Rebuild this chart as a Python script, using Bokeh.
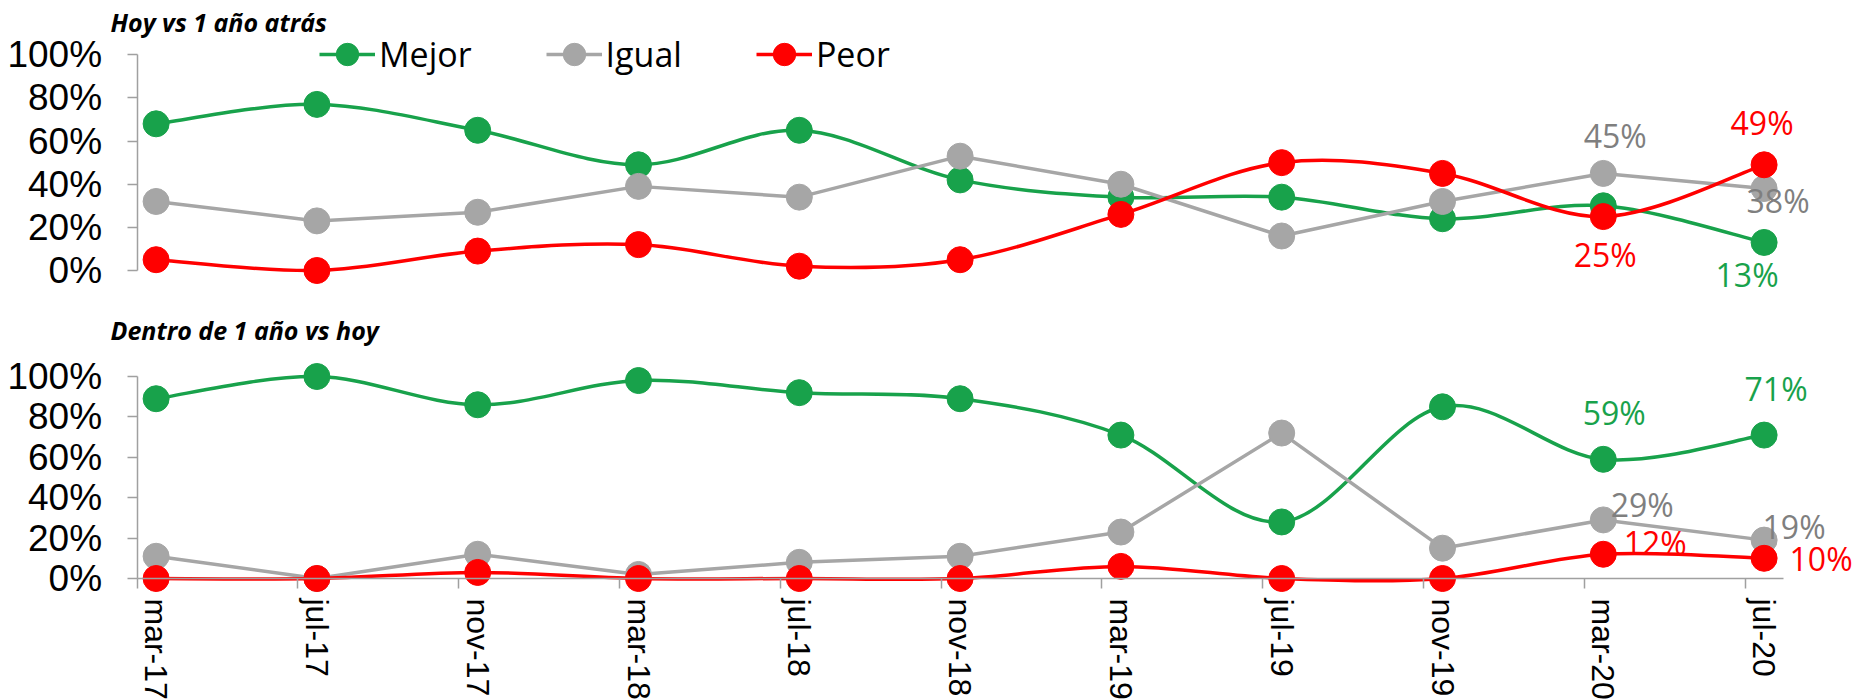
from bokeh.plotting import figure
from bokeh.models import Range1d, FixedTicker, NumeralTickFormatter, Label, Legend, LegendItem
from bokeh.layouts import column
from bokeh.embed import file_html
from bokeh.resources import INLINE

# ---------------- data ----------------
dates = ["mar-17", "jul-17", "nov-17", "mar-18", "jul-18", "nov-18",
         "mar-19", "jul-19", "nov-19", "mar-20", "jul-20"]
series_names = ["Mejor", "Igual", "Peor"]

top_mejor = [0.68, 0.77, 0.65, 0.49, 0.65, 0.42, 0.34, 0.34, 0.24, 0.30, 0.13]
top_igual = [0.32, 0.23, 0.27, 0.39, 0.34, 0.53, 0.40, 0.16, 0.32, 0.45, 0.38]
top_peor = [0.05, 0.00, 0.09, 0.12, 0.02, 0.05, 0.26, 0.50, 0.45, 0.25, 0.49]

bot_mejor = [0.89, 1.00, 0.86, 0.98, 0.92, 0.89, 0.71, 0.28, 0.85, 0.59, 0.71]
bot_igual = [0.11, 0.00, 0.12, 0.02, 0.08, 0.11, 0.23, 0.72, 0.15, 0.29, 0.19]
bot_peor = [0.00, 0.00, 0.03, 0.00, 0.00, 0.00, 0.06, 0.00, 0.00, 0.12, 0.10]

y_ticks = [0.0, 0.2, 0.4, 0.6, 0.8, 1.0]
top_title = "Hoy vs 1 año atrás"
bot_title = "Dentro de 1 año vs hoy"

# ---------------- style / layout ----------------
GREEN = "#18A24B"
GRAY = "#A6A6A6"
RED = "#FF0000"
GRAY_TXT = "#7F7F7F"
AXIS = "#A0A0A0"
LINE_W = 3.5
MSIZE = 26

W = 1862
DOT0 = 155.6          # pixel x of first category
PXX = 160.8           # pixels per category
X0 = -DOT0 / PXX
X1 = X0 + W / PXX
AX_START = (136.6 - DOT0) / PXX
AX_END = (1783 - DOT0) / PXX

H1 = 295
PXY1 = 215.7
Y1_TOP = 1 + 54.3 / PXY1
Y0_TOP = Y1_TOP - H1 / PXY1

H2 = 699 - H1
PXY2 = 202.0
Y1_BOT = 1 + (376 - H1) / PXY2
Y0_BOT = Y1_BOT - H2 / PXY2


def catmull_bezier(xs, ys):
    n = len(xs)
    out = dict(x0=[], y0=[], x1=[], y1=[], cx0=[], cy0=[], cx1=[], cy1=[])
    for i in range(n - 1):
        a = max(i - 1, 0)
        d = min(i + 2, n - 1)
        out["x0"].append(xs[i]); out["y0"].append(ys[i])
        out["x1"].append(xs[i + 1]); out["y1"].append(ys[i + 1])
        out["cx0"].append(xs[i] + (xs[i + 1] - xs[a]) / 6)
        out["cy0"].append(ys[i] + (ys[i + 1] - ys[a]) / 6)
        out["cx1"].append(xs[i + 1] - (xs[d] - xs[i]) / 6)
        out["cy1"].append(ys[i + 1] - (ys[d] - ys[i]) / 6)
    return out


def make_fig(height, y0, y1):
    p = figure(width=W, height=height, x_range=Range1d(X0, X1), y_range=Range1d(y0, y1),
               output_backend="svg", toolbar_location=None,
               min_border_left=0, min_border_right=0, min_border_top=0, min_border_bottom=0)
    p.outline_line_color = None
    p.xgrid.visible = False
    p.ygrid.visible = False
    ya = p.yaxis[0]
    ya.fixed_location = AX_START
    ya.ticker = FixedTicker(ticks=y_ticks, minor_ticks=[])
    ya.formatter = NumeralTickFormatter(format="0%")
    ya.bounds = (0, 1)
    ya.axis_line_color = AXIS
    ya.axis_line_width = 1.5
    ya.major_tick_line_color = AXIS
    ya.major_tick_line_width = 1.5
    ya.major_tick_out = 10
    ya.major_tick_in = 0
    ya.minor_tick_line_color = None
    ya.major_label_standoff = 25
    ya.major_label_text_font = "Liberation Sans"
    ya.major_label_text_font_size = "37px"
    ya.major_label_text_color = "black"
    return p


def draw_series(p, vals, color, smooth):
    xs = list(range(len(vals)))
    if smooth:
        p.bezier(line_color=color, line_width=LINE_W, **catmull_bezier(xs, vals))
    else:
        p.line(xs, vals, line_color=color, line_width=LINE_W, line_join="round")
    sc = p.scatter(xs, vals, size=MSIZE, fill_color=color, line_color=color, marker="circle")
    dummy = p.line([float("nan")], [float("nan")], line_color=color, line_width=LINE_W)
    return dummy, sc


def add_label(p, series, idx, color, dx, dy):
    v = series[idx]
    p.add_layout(Label(x=idx, y=v, x_offset=dx, y_offset=dy, text=f"{round(v * 100)}%",
                       text_align="center", text_baseline="middle",
                       text_font="Open Sans", text_font_size="32px", text_color=color))


def add_title(p, text, ytop, pxy, page_y):
    p.add_layout(Label(x=(110 - DOT0) / PXX, y=ytop - page_y / pxy, text=text,
                       text_align="left", text_baseline="middle",
                       text_font="Open Sans", text_font_size="25px",
                       text_font_style="bold italic", text_color="black"))


colors = [GREEN, GRAY, RED]
smooths = [True, False, True]

# ---------------- top chart ----------------
top = make_fig(H1, Y0_TOP, Y1_TOP)
top.xaxis.visible = False
items = []
for name, vals, c, sm in zip(series_names, [top_mejor, top_igual, top_peor], colors, smooths):
    d, s = draw_series(top, vals, c, sm)
    items.append(LegendItem(label=name, renderers=[d, s]))

legend = Legend(items=items, orientation="horizontal", location=(319, H1 - 54 - 30),
                glyph_width=56, glyph_height=60, label_standoff=4, spacing=74,
                padding=0, margin=0, border_line_color=None, background_fill_alpha=0,
                label_text_font="Open Sans", label_text_font_size="34px",
                label_text_color="black", label_height=40)
top.add_layout(legend, "center")

add_title(top, top_title, Y1_TOP, PXY1, 21.5)
add_label(top, top_igual, 9, GRAY_TXT, 12, 38)
add_label(top, top_peor, 9, RED, 2, -38)
add_label(top, top_peor, 10, RED, -2, 42)
add_label(top, top_igual, 10, GRAY_TXT, 14, -12)
add_label(top, top_mejor, 10, GREEN, -17, -32)

# ---------------- bottom chart ----------------
bot = make_fig(H2, Y0_BOT, Y1_BOT)
for name, vals, c, sm in zip(series_names, [bot_mejor, bot_igual, bot_peor], colors, smooths):
    draw_series(bot, vals, c, sm)

xa = bot.xaxis[0]
xa.fixed_location = 0
xa.bounds = (AX_START, AX_END)
xa.ticker = FixedTicker(ticks=list(range(len(dates))),
                        minor_ticks=[i + AX_START for i in range(len(dates))])
xa.major_label_overrides = {i: d for i, d in enumerate(dates)}
xa.major_label_orientation = "vertical"
xa.major_label_text_font = "Liberation Sans"
xa.major_label_text_font_size = "32px"
xa.major_label_text_color = "black"
xa.major_label_standoff = 10
xa.major_tick_in = 0
xa.major_tick_out = 0
xa.major_tick_line_color = None
xa.minor_tick_in = 0
xa.minor_tick_out = 10
xa.minor_tick_line_color = AXIS
xa.minor_tick_line_width = 1.5
xa.axis_line_color = AXIS
xa.axis_line_width = 1.5

add_title(bot, bot_title, Y1_BOT, PXY2, 329 - H1)
add_label(bot, bot_mejor, 9, GREEN, 11, 47)
add_label(bot, bot_mejor, 10, GREEN, 12, 47)
add_label(bot, bot_igual, 9, GRAY_TXT, 39, 15)
add_label(bot, bot_igual, 10, GRAY_TXT, 30, 14)
add_label(bot, bot_peor, 9, RED, 52, 12)
add_label(bot, bot_peor, 10, RED, 57, 0)

layout = column(top, bot, spacing=0)
open("out.html", "w").write(file_html(layout, INLINE))
